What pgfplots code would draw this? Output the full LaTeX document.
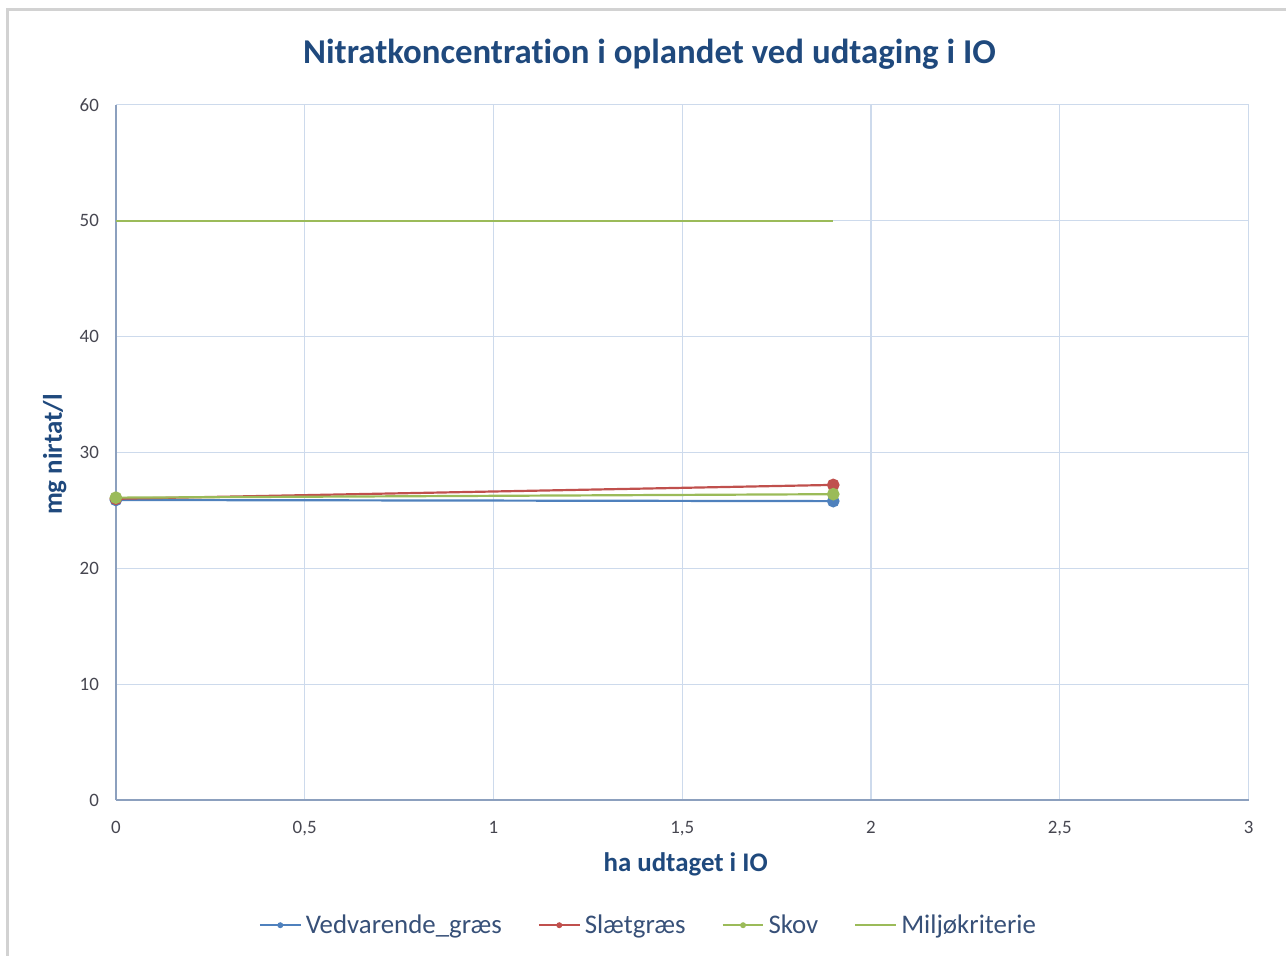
\documentclass[border=0pt]{standalone}
\usepackage{pgfplots}
\pgfplotsset{compat=1.18}
\usepackage{fontspec}
\setmainfont{Carlito}[Ligatures=NoCommon]
\definecolor{xlblue}{RGB}{79,129,189}
\definecolor{xlred}{RGB}{192,80,77}
\definecolor{xlgreen}{RGB}{155,187,89}
\definecolor{titleblue}{RGB}{31,73,125}
\definecolor{legtext}{RGB}{55,80,120}
\definecolor{gridc}{RGB}{205,218,236}
\definecolor{axisc}{RGB}{140,160,190}
\definecolor{tickc}{RGB}{70,70,80}
\definecolor{frame}{RGB}{210,210,210}
\pgfplotsset{
  dotlegend/.style={legend image code/.code={
      \draw[##1] (0cm,0cm) -- (0.72cm,0cm);
      \fill[##1, draw=none] (0.36cm,0cm) circle (1.5bp);}},
  plainlegend/.style={legend image code/.code={
      \draw[##1] (0cm,0cm) -- (0.72cm,0cm);}},
}
\begin{document}
\begin{tikzpicture}[x=0.5bp,y=0.5bp]
  % page of 1287 x 957 px
  \path (0,0) rectangle (1287,957);
  \draw[frame, line width=1.5bp] (8,0) -- (8,947) -- (1287,947);
  \begin{axis}[
    at={(58bp,78bp)}, anchor=south west,
    scale only axis, width=567bp, height=348bp,
    xmin=0, xmax=3, ymin=0, ymax=60,
    xtick={0,0.5,...,3}, ytick={0,10,...,60},
    /pgf/number format/use comma,
    /pgf/number format/assume math mode=true,
    ticklabel style={font=\fontsize{9.5}{11}\selectfont, text=tickc},
    xticklabel style={yshift=-7bp},
    yticklabel style={xshift=-5bp},
    major tick length=0pt,
    xmajorgrids, ymajorgrids,
    grid style={gridc, line width=0.6bp},
    axis x line*=bottom, axis y line*=left,
    x axis line style={draw=axisc, line width=0.7bp, -},
    y axis line style={draw=axisc, line width=0.7bp, -},
    title={Nitratkoncentration i oplandet ved udtaging i IO},
    title style={at={(0.471,1.056)}, anchor=center, font=\fontsize{17.5}{20}\bfseries, text=titleblue},
    xlabel={ha udtaget i IO},
    xlabel style={at={(0.503,-0.092)}, anchor=center, font=\fontsize{13.5}{16}\bfseries, text=titleblue},
    ylabel={mg nirtat/l},
    ylabel style={at={(-0.054,0.497)}, anchor=center, font=\fontsize{13.5}{16}\bfseries, text=titleblue},
    legend columns=4,
    legend style={at={(0.471,-0.18)}, anchor=center, draw=none, fill=none,
      font=\fontsize{13.5}{16}\selectfont, text=legtext,
      /tikz/every even column/.append style={column sep=16bp}},
    dotlegend,
    every axis plot/.append style={line width=1.1bp},
    clip=false,
  ]
    \addplot[xlblue, mark=*, mark size=2.6bp] coordinates {(0,25.9) (1.9,25.8)};
    \addlegendentry{Vedvarende\_græs}
    \addplot[xlred, mark=*, mark size=2.6bp] coordinates {(0,26.0) (1.9,27.2)};
    \addlegendentry{Slætgræs}
    \addplot[xlgreen, mark=*, mark size=2.6bp] coordinates {(0,26.1) (1.9,26.4)};
    \addlegendentry{Skov}
    \addplot[xlgreen, line width=1.1bp, plainlegend] coordinates {(0,50) (1.9,50)};
    \addlegendentry{Miljøkriterie}
  \end{axis}
\end{tikzpicture}
\end{document}
